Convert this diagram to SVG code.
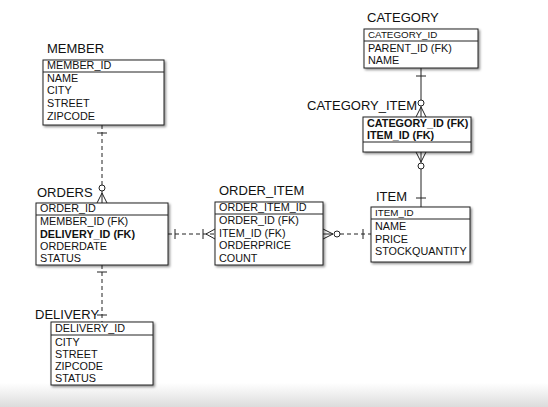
<svg xmlns="http://www.w3.org/2000/svg" width="548" height="407" viewBox="0 0 548 407">
<defs>
<filter id="sh" x="-10%" y="-10%" width="130%" height="130%">
<feDropShadow dx="1.5" dy="1.5" stdDeviation="1" flood-color="#000" flood-opacity="0.45"/>
</filter>
<linearGradient id="bg" x1="0" y1="0" x2="0" y2="1">
<stop offset="0" stop-color="#ffffff"/>
<stop offset="1" stop-color="#dcdcdc"/>
</linearGradient>
</defs>
<style>
.box{fill:#fff;stroke:#222;stroke-width:1;filter:url(#sh)}
.div{stroke:#222;stroke-width:1}
.t{font-family:"Liberation Sans",Arial,sans-serif;font-size:10.8px;fill:#111}
.b{font-weight:bold}
.s{font-size:9.8px}
.lbl{font-family:"Liberation Sans",Arial,sans-serif;font-size:13px;fill:#111}
.c{stroke:#222;stroke-width:1;fill:none}
.d{stroke-dasharray:4,3}
.o{fill:#fff;stroke:#222;stroke-width:1}
</style>
<rect x="0" y="0" width="548" height="407" fill="#fff"/>
<rect x="0" y="383" width="548" height="24" fill="url(#bg)"/>

<g id="connectors">
<!-- MEMBER - ORDERS -->
<line class="c d" x1="102" y1="125" x2="102" y2="185"/>
<line class="c" x1="97" y1="133" x2="107" y2="133"/>
<circle class="o" cx="102" cy="188" r="3"/>
<path class="c" d="M102 191 V203 M102 193 L97 203 M102 193 L107 203"/>
<!-- ORDERS - DELIVERY -->
<line class="c d" x1="102" y1="265" x2="102" y2="322"/>
<line class="c" x1="97" y1="272" x2="107" y2="272"/>
<line class="c" x1="97" y1="315" x2="107" y2="315"/>
<!-- ORDERS - ORDER_ITEM -->
<line class="c d" x1="168" y1="234" x2="215" y2="234"/>
<line class="c" x1="175" y1="229" x2="175" y2="239"/>
<line class="c" x1="203" y1="229" x2="203" y2="239"/>
<path class="c" d="M206 234 L215 229 M206 234 L215 239"/>
<!-- ORDER_ITEM - ITEM -->
<path class="c" d="M323 234 H333 M333 234 L323 229 M333 234 L323 239"/>
<circle class="o" cx="337" cy="234" r="3"/>
<line class="c d" x1="340" y1="234" x2="372" y2="234"/>
<line class="c" x1="363" y1="229" x2="363" y2="239"/>
<!-- CATEGORY - CATEGORY_ITEM -->
<line class="c" x1="421" y1="68" x2="421" y2="100"/>
<line class="c" x1="416" y1="76" x2="426" y2="76"/>
<circle class="o" cx="421" cy="103" r="3"/>
<path class="c" d="M421 106 V117 M421 107 L416 117 M421 107 L426 117"/>
<!-- CATEGORY_ITEM - ITEM -->
<path class="c" d="M421 152 V163 M421 162 L416 152 M421 162 L426 152"/>
<circle class="o" cx="421" cy="166" r="3"/>
<line class="c" x1="421" y1="169" x2="421" y2="207"/>
<line class="c" x1="416" y1="198" x2="426" y2="198"/>
</g>

<g id="member">
<text class="lbl" x="47" y="53">MEMBER</text>
<rect class="box" x="43" y="60" width="121" height="65"/>
<line class="div" x1="43" y1="72" x2="164" y2="72"/>
<text class="t" x="47" y="68.5">MEMBER_ID</text>
<text class="t" x="47" y="82">NAME</text>
<text class="t" x="47" y="94">CITY</text>
<text class="t" x="47" y="107">STREET</text>
<text class="t" x="47" y="120">ZIPCODE</text>
</g>

<g id="orders">
<text class="lbl" x="37" y="197">ORDERS</text>
<rect class="box" x="36" y="203" width="132" height="62"/>
<line class="div" x1="36" y1="215" x2="168" y2="215"/>
<text class="t" x="40" y="211.5">ORDER_ID</text>
<text class="t" x="40" y="225">MEMBER_ID (FK)</text>
<text class="t b" x="40" y="238">DELIVERY_ID (FK)</text>
<text class="t" x="40" y="250">ORDERDATE</text>
<text class="t" x="40" y="262">STATUS</text>
</g>

<g id="order_item">
<text class="lbl" x="219" y="195">ORDER_ITEM</text>
<rect class="box" x="215" y="202" width="108" height="63"/>
<line class="div" x1="215" y1="214" x2="323" y2="214"/>
<text class="t" x="219" y="210.5">ORDER_ITEM_ID</text>
<text class="t" x="219" y="224">ORDER_ID (FK)</text>
<text class="t" x="219" y="237">ITEM_ID (FK)</text>
<text class="t" x="219" y="249">ORDERPRICE</text>
<text class="t" x="219" y="262">COUNT</text>
</g>

<g id="item">
<text class="lbl" x="376" y="201">ITEM</text>
<rect class="box" x="371" y="207" width="99" height="55"/>
<line class="div" x1="371" y1="219" x2="470" y2="219"/>
<text class="t s" x="375" y="215.5">ITEM_ID</text>
<text class="t" x="375" y="230">NAME</text>
<text class="t" x="375" y="243">PRICE</text>
<text class="t" x="375" y="255">STOCKQUANTITY</text>
</g>

<g id="category">
<text class="lbl" x="367" y="22">CATEGORY</text>
<rect class="box" x="364" y="29" width="114" height="39"/>
<line class="div" x1="364" y1="41" x2="478" y2="41"/>
<text class="t s" x="368" y="37.5">CATEGORY_ID</text>
<text class="t" x="368" y="52">PARENT_ID (FK)</text>
<text class="t" x="368" y="64">NAME</text>
</g>

<g id="category_item">
<text class="lbl" x="307" y="110">CATEGORY_ITEM</text>
<rect class="box" x="363" y="117" width="108" height="35"/>
<line class="div" x1="363" y1="142" x2="471" y2="142"/>
<text class="t b" x="367" y="127">CATEGORY_ID (FK)</text>
<text class="t b" x="367" y="139">ITEM_ID (FK)</text>
</g>

<g id="delivery">
<text class="lbl" x="35" y="319">DELIVERY</text>
<rect class="box" x="51" y="322" width="102" height="63"/>
<line class="div" x1="51" y1="335" x2="153" y2="335"/>
<text class="t" x="55" y="331.5">DELIVERY_ID</text>
<text class="t" x="55" y="346">CITY</text>
<text class="t" x="55" y="358">STREET</text>
<text class="t" x="55" y="370">ZIPCODE</text>
<text class="t" x="55" y="382">STATUS</text>
</g>
</svg>
